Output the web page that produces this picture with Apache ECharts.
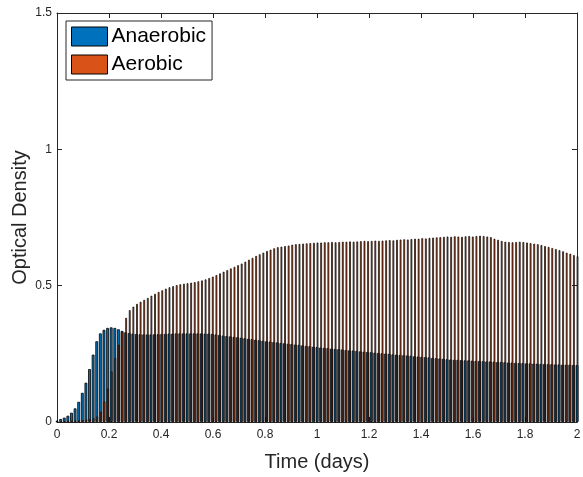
<!DOCTYPE html>
<html>
<head>
<meta charset="utf-8">
<script src="https://cdn.jsdelivr.net/npm/echarts@6/dist/echarts.min.js"></script>
<style>
  html, body { margin: 0; padding: 0; background: #fff; }
  #chart { width: 583px; height: 477px; }
</style>
</head>
<body>
<div id="chart"></div>
<script>
// Optical density sampled every 20 minutes (1/72 day) over two days.
const sampleStepDays = 1 / 72;

const anaerobicOD = [
  0.005, 0.011, 0.016, 0.023, 0.034, 0.050, 0.074, 0.107, 0.144, 0.194,
  0.247, 0.296, 0.325, 0.338, 0.345, 0.347, 0.345, 0.340, 0.334, 0.329,
  0.326, 0.324, 0.323, 0.322, 0.321, 0.321, 0.321, 0.322, 0.322, 0.323,
  0.323, 0.324, 0.324, 0.325, 0.325, 0.325, 0.325, 0.325, 0.325, 0.325,
  0.325, 0.324, 0.324, 0.323, 0.321, 0.319, 0.317, 0.315, 0.314, 0.312,
  0.311, 0.309, 0.307, 0.305, 0.304, 0.302, 0.300, 0.298, 0.296, 0.295,
  0.293, 0.292, 0.290, 0.289, 0.287, 0.286, 0.284, 0.283, 0.281, 0.279,
  0.278, 0.276, 0.275, 0.273, 0.272, 0.271, 0.269, 0.268, 0.267, 0.266,
  0.264, 0.263, 0.262, 0.261, 0.259, 0.258, 0.257, 0.256, 0.254, 0.253,
  0.252, 0.251, 0.250, 0.248, 0.247, 0.246, 0.245, 0.244, 0.243, 0.241,
  0.240, 0.239, 0.238, 0.237, 0.235, 0.234, 0.233, 0.232, 0.230, 0.229,
  0.228, 0.228, 0.227, 0.226, 0.226, 0.225, 0.224, 0.224, 0.223, 0.222,
  0.222, 0.221, 0.220, 0.220, 0.219, 0.218, 0.218, 0.217, 0.216, 0.216,
  0.215, 0.215, 0.214, 0.214, 0.213, 0.213, 0.212, 0.212, 0.211, 0.211,
  0.210, 0.210, 0.210, 0.209, 0.209
];

const aerobicOD = [
  0.002, 0.003, 0.004, 0.004, 0.005, 0.005, 0.006, 0.007, 0.009, 0.011,
  0.014, 0.020, 0.038, 0.075, 0.123, 0.185, 0.235, 0.283, 0.330, 0.382,
  0.410, 0.423, 0.433, 0.441, 0.448, 0.455, 0.463, 0.470, 0.477, 0.483,
  0.489, 0.494, 0.498, 0.502, 0.505, 0.507, 0.509, 0.511, 0.513, 0.516,
  0.519, 0.523, 0.528, 0.533, 0.539, 0.545, 0.551, 0.557, 0.563, 0.569,
  0.575, 0.581, 0.588, 0.595, 0.602, 0.609, 0.615, 0.621, 0.627, 0.632,
  0.637, 0.641, 0.643, 0.645, 0.647, 0.650, 0.652, 0.653, 0.654, 0.655,
  0.656, 0.657, 0.658, 0.658, 0.659, 0.659, 0.660, 0.659, 0.660, 0.661,
  0.661, 0.662, 0.661, 0.662, 0.663, 0.664, 0.663, 0.664, 0.665, 0.664,
  0.665, 0.666, 0.667, 0.666, 0.668, 0.669, 0.670, 0.669, 0.671, 0.672,
  0.672, 0.674, 0.673, 0.675, 0.676, 0.677, 0.678, 0.679, 0.680, 0.679,
  0.681, 0.680, 0.679, 0.681, 0.682, 0.680, 0.682, 0.683, 0.682, 0.680,
  0.678, 0.672, 0.668, 0.664, 0.661, 0.660, 0.659, 0.660, 0.661, 0.660,
  0.658, 0.656, 0.654, 0.652, 0.649, 0.645, 0.642, 0.638, 0.634, 0.630,
  0.626, 0.621, 0.617, 0.612, 0.608
];

const seriesNames = ['Anaerobic', 'Aerobic'];
const seriesColors = ['#0072BD', '#D95319'];
const xTicks = { min: 0, max: 2, step: 0.2 };
const yTicks = { min: 0, max: 1.5, step: 0.5 };

const timeDays = anaerobicOD.map((_, i) => i * sampleStepDays);
const toPairs = (vals) => vals.map((v, i) => [timeDays[i], v]);

const inkColor = '#262626';
const fontFamily = '"Liberation Sans", Arial, Helvetica, sans-serif';

// Box-style axis: line on each side of the plot, ticks pointing inward.
const frameAxis = (extra) => Object.assign({
  type: 'value',
  axisLine: { show: true, onZero: false, lineStyle: { color: inkColor, width: 1 } },
  axisTick: { show: true, inside: true, length: 5, lineStyle: { color: inkColor, width: 1 } },
  splitLine: { show: false },
  axisLabel: { show: false }
}, extra);

const chart = echarts.init(document.getElementById('chart'), null, { renderer: 'canvas' });

chart.setOption({
  animation: false,
  backgroundColor: '#ffffff',
  grid: { left: 57, right: 6, top: 13, bottom: 55, containLabel: false, outerBoundsMode: 'none' },
  legend: {
    orient: 'vertical',
    left: 66,
    top: 21,
    data: seriesNames,
    icon: 'rect',
    itemWidth: 36,
    itemHeight: 19,
    itemGap: 7,
    padding: [5, 6, 5, 5],
    backgroundColor: '#ffffff',
    borderColor: inkColor,
    borderWidth: 1,
    borderRadius: 0,
    itemStyle: { borderColor: '#000000', borderWidth: 1 },
    textStyle: { fontFamily, fontSize: 21, color: '#000000', padding: [0, 0, 0, -1] }
  },
  xAxis: [
    frameAxis({
      position: 'bottom',
      min: xTicks.min, max: xTicks.max, interval: xTicks.step,
      name: 'Time (days)',
      nameLocation: 'middle',
      nameGap: 30,
      nameMoveOverlap: false,
      nameTextStyle: { fontFamily, fontSize: 20, color: inkColor },
      axisLabel: { show: true, margin: 7, fontFamily, fontSize: 12, color: inkColor }
    }),
    frameAxis({ position: 'top', min: xTicks.min, max: xTicks.max, interval: xTicks.step })
  ],
  yAxis: [
    frameAxis({
      position: 'left',
      min: yTicks.min, max: yTicks.max, interval: yTicks.step,
      name: 'Optical Density',
      nameLocation: 'middle',
      nameGap: 27,
      nameMoveOverlap: false,
      nameRotate: 90,
      nameTextStyle: { fontFamily, fontSize: 20, color: inkColor },
      axisLabel: { show: true, margin: 5, fontFamily, fontSize: 12, color: inkColor }
    }),
    frameAxis({ position: 'right', min: yTicks.min, max: yTicks.max, interval: yTicks.step })
  ],
  series: [
    {
      name: seriesNames[0],
      type: 'bar',
      xAxisIndex: 0,
      yAxisIndex: 0,
      data: toPairs(anaerobicOD),
      barWidth: 2.8,
      barGap: '-62.5%',
      clip: true,
      itemStyle: { color: seriesColors[0], borderColor: '#000000', borderWidth: 0.8 },
      emphasis: { disabled: true }
    },
    {
      name: seriesNames[1],
      type: 'bar',
      xAxisIndex: 0,
      yAxisIndex: 0,
      data: toPairs(aerobicOD),
      barWidth: 1.7,
      clip: true,
      itemStyle: { color: seriesColors[1], borderColor: '#000000', borderWidth: 0.7 },
      emphasis: { disabled: true }
    }
  ]
});
</script>
</body>
</html>
